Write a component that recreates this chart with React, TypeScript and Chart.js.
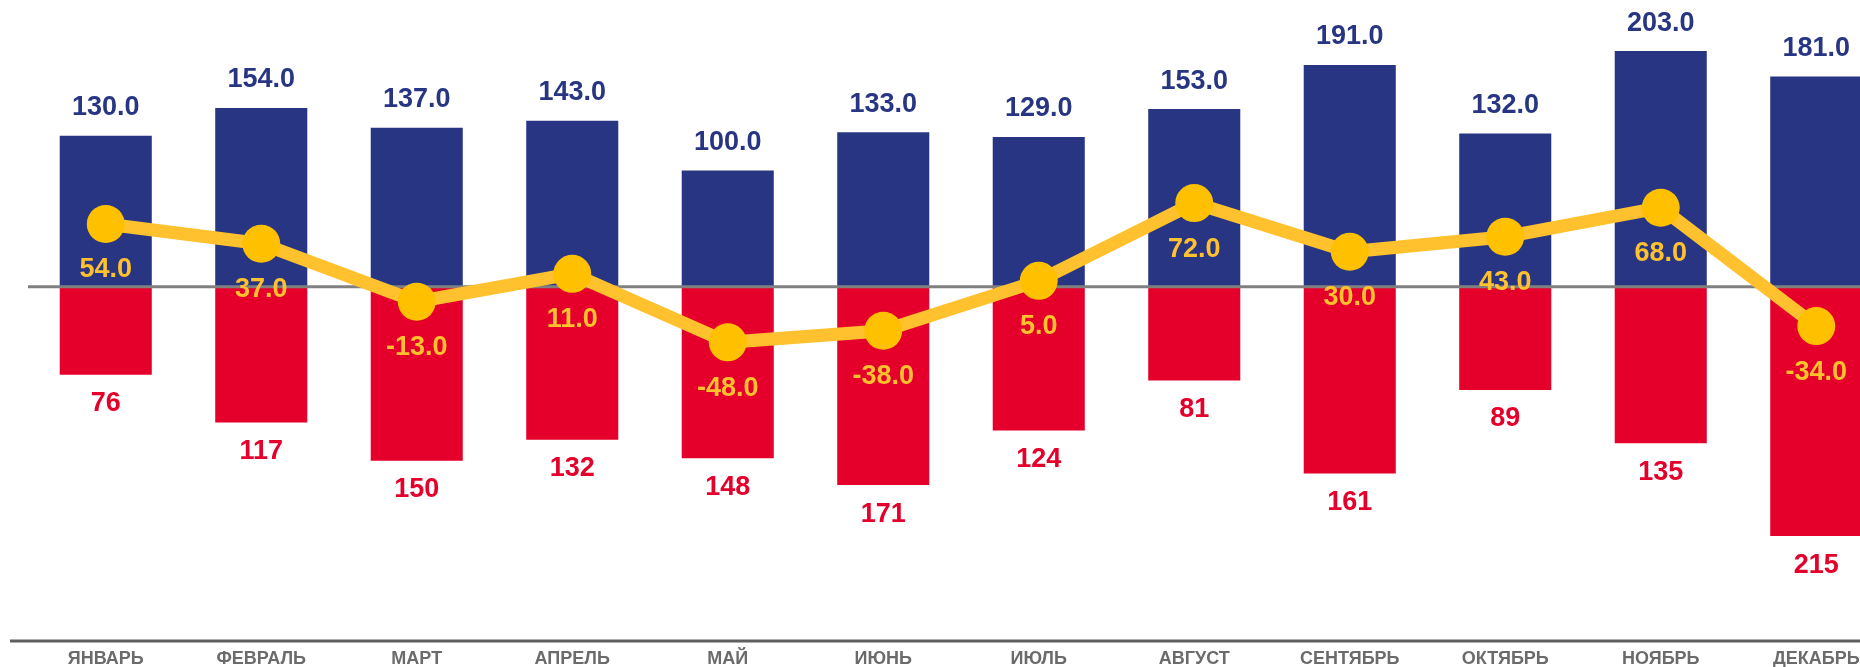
import React, { useEffect, useRef } from "react";
import { Chart, registerables } from "chart.js";

Chart.register(...registerables);

const categories = ["ЯНВАРЬ", "ФЕВРАЛЬ", "МАРТ", "АПРЕЛЬ", "МАЙ", "ИЮНЬ", "ИЮЛЬ", "АВГУСТ", "СЕНТЯБРЬ", "ОКТЯБРЬ", "НОЯБРЬ", "ДЕКАБРЬ"];
const positiveValues = [130, 154, 137, 143, 100, 133, 129, 153, 191, 132, 203, 181];
const negativeValues = [76, 117, 150, 132, 148, 171, 124, 81, 161, 89, 135, 215];
const balanceValues = [54, 37, -13, 11, -48, -38, 5, 72, 30, 43, 68, -34];

const BLUE = "#283583";
const RED = "#E4002B";
const YELLOW_LINE = "#FFC12E";
const YELLOW_POINT = "#FFC000";
const FONT = "'Liberation Sans', Arial, sans-serif";

const overlayPlugin = {
  id: "overlay",
  afterDatasetDraw(chart: any, args: any) {
    if (args.index !== 1) return;
    const { ctx, chartArea, scales } = chart;
    const y0 = scales.y.getPixelForValue(0);
    ctx.save();
    ctx.strokeStyle = "#808080";
    ctx.lineWidth = 3;
    ctx.beginPath();
    ctx.moveTo(chartArea.left, y0);
    ctx.lineTo(chart.width, y0);
    ctx.stroke();
    ctx.strokeStyle = "#5f5f5f";
    ctx.lineWidth = 3;
    ctx.beginPath();
    ctx.moveTo(chartArea.left - 18, chartArea.bottom + 1.5);
    ctx.lineTo(chart.width, chartArea.bottom + 1.5);
    ctx.stroke();
    ctx.restore();
  },
  afterDatasetsDraw(chart: any) {
    const { ctx } = chart;
    ctx.save();
    ctx.font = `bold 27px ${FONT}`;
    ctx.textAlign = "center";
    ctx.textBaseline = "middle";
    const m0 = chart.getDatasetMeta(0);
    m0.data.forEach((el: any, i: number) => {
      ctx.fillStyle = BLUE;
      ctx.fillText(positiveValues[i].toFixed(1), el.x, el.y - 28);
    });
    const m1 = chart.getDatasetMeta(1);
    m1.data.forEach((el: any, i: number) => {
      ctx.fillStyle = RED;
      ctx.fillText(String(negativeValues[i]), el.x, el.y + 29);
    });
    const m2 = chart.getDatasetMeta(2);
    m2.data.forEach((el: any, i: number) => {
      ctx.fillStyle = YELLOW_LINE;
      ctx.fillText(balanceValues[i].toFixed(1), el.x, el.y + 46);
    });
    ctx.restore();
  },
};

export default function App() {
  const ref = useRef<HTMLCanvasElement | null>(null);
  useEffect(() => {
    if (!ref.current) return;
    const chart = new Chart(ref.current, {
      type: "bar",
      data: {
        labels: categories,
        datasets: [
          {
            type: "bar",
            data: positiveValues,
            backgroundColor: BLUE,
            barPercentage: 0.592,
            categoryPercentage: 1,
            order: 3,
          },
          {
            type: "bar",
            data: negativeValues.map((v) => -v),
            backgroundColor: RED,
            barPercentage: 0.592,
            categoryPercentage: 1,
            order: 2,
          },
          {
            type: "line",
            data: balanceValues,
            borderColor: YELLOW_LINE,
            borderWidth: 13,
            pointRadius: 19,
            pointBackgroundColor: YELLOW_POINT,
            pointBorderWidth: 0,
            pointHoverRadius: 19,
            tension: 0,
            clip: false,
            order: 1,
          },
        ] as any,
      },
      options: {
        responsive: false,
        animation: false,
        layout: { autoPadding: false, padding: { left: 28, right: 6, top: 0, bottom: 0 } },
        plugins: { legend: { display: false }, tooltip: { enabled: false }, title: { display: false } },
        scales: {
          x: {
            stacked: true,
            grid: { display: false, drawTicks: false },
            border: { display: false },
            ticks: {
              autoSkip: false,
              maxRotation: 0,
              padding: 9,
              color: "#6b6b6b",
              font: { family: FONT, size: 18, weight: "bold" },
            },
          },
          y: {
            display: false,
            stacked: false,
            min: -304,
            max: 247,
          },
        },
      },
      plugins: [overlayPlugin],
    });
    return () => chart.destroy();
  }, []);
  return (
    <div style={{ position: "fixed", left: 0, top: 0, width: 1860, height: 667, overflow: "hidden", background: "#fff" }}>
      <canvas ref={ref} width={1900} height={679} style={{ display: "block" }} />
    </div>
  );
}
